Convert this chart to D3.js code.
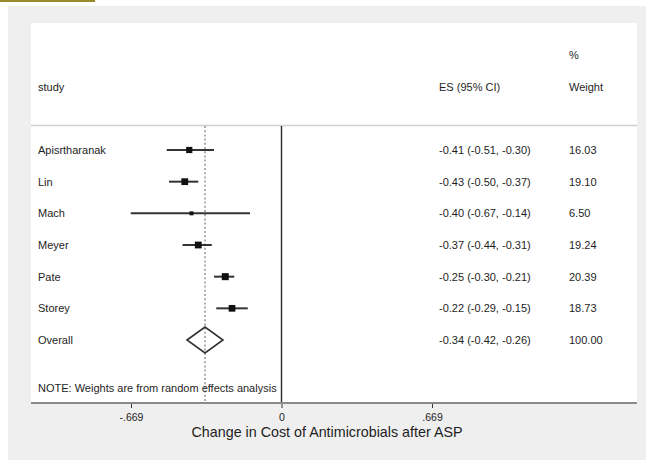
<!DOCTYPE html>
<html>
<head>
<meta charset="utf-8">
<script src="https://cdn.jsdelivr.net/npm/d3@7"></script>
<style>
  html, body { margin: 0; padding: 0; background: #ffffff; }
  svg { display: block; }
  text { font-family: "Liberation Sans", Arial, sans-serif; fill: #1e1e1e; }
</style>
</head>
<body>
<svg id="chart" width="646" height="460"></svg>
<script>
// Study-level effect sizes (change in antimicrobial cost) with 95% CIs
const studies = ["Apisrtharanak", "Lin", "Mach", "Meyer", "Pate", "Storey"];
const es      = [-0.41, -0.43, -0.40, -0.37, -0.25, -0.22];
const ciLow   = [-0.51, -0.50, -0.67, -0.44, -0.30, -0.29];
const ciHigh  = [-0.30, -0.37, -0.14, -0.31, -0.21, -0.15];
const weights = [16.03, 19.10, 6.50, 19.24, 20.39, 18.73];

// Pooled random-effects estimate
const overallLabel  = "Overall";
const overallES     = -0.34;
const overallLow    = -0.42;
const overallHigh   = -0.26;
const overallWeight = 100.00;

// Axis ticks
const tickValues = [-0.669, 0, 0.669];
const tickLabels = ["-.669", "0", ".669"];

const svg = d3.select("#chart");
const W = 646, H = 460;

// backgrounds
svg.append("rect").attr("x", 0).attr("y", 0).attr("width", W).attr("height", H).attr("fill", "#ffffff");
svg.append("rect").attr("x", 0).attr("y", 0).attr("width", 95).attr("height", 2).attr("fill", "#9b8a2c");
svg.append("rect").attr("x", 8).attr("y", 6).attr("width", W - 8).attr("height", H - 6).attr("fill", "#efefef");
svg.append("rect").attr("x", 31).attr("y", 23).attr("width", 606).attr("height", 380).attr("fill", "#ffffff");

const x = d3.scaleLinear().domain([-0.669, 0.669]).range([131, 432]);
const rows = studies.concat([overallLabel]);
const y = d3.scalePoint().domain(rows).range([150, 340]);

// plain hyphen-minus for negative numbers
const locale = d3.formatLocale({ decimal: ".", thousands: ",", grouping: [3], currency: ["", ""], minus: "-" });
const fmt = locale.format(".2f");
const esText = (e, l, h) => `${fmt(e)} (${fmt(l)}, ${fmt(h)})`;

// header
const fs = 11;
svg.append("text").attr("x", 38).attr("y", 91).attr("font-size", fs).text("study");
svg.append("text").attr("x", 439).attr("y", 91).attr("font-size", fs).text("ES (95% CI)");
svg.append("text").attr("x", 569).attr("y", 59).attr("font-size", fs).text("%");
svg.append("text").attr("x", 569).attr("y", 91).attr("font-size", fs).text("Weight");

// header rule
svg.append("line").attr("x1", 31).attr("x2", 637).attr("y1", 125.5).attr("y2", 125.5)
  .attr("stroke", "#cfcfcf").attr("stroke-width", 1.5);

// null line at 0
svg.append("line").attr("x1", x(0)).attr("x2", x(0)).attr("y1", 126).attr("y2", 404)
  .attr("stroke", "#2a2a2a").attr("stroke-width", 1.4);

// pooled estimate reference (dotted)
svg.append("line").attr("x1", x(overallES)).attr("x2", x(overallES)).attr("y1", 126).attr("y2", 404)
  .attr("stroke", "#9a9a9a").attr("stroke-width", 1.6).attr("stroke-dasharray", "2,2.2");

// studies
const g = svg.append("g");
studies.forEach((s, i) => {
  const yy = y(s);
  g.append("text").attr("x", 38).attr("y", yy + 4).attr("font-size", fs).text(s);
  g.append("line").attr("x1", x(ciLow[i])).attr("x2", x(ciHigh[i])).attr("y1", yy).attr("y2", yy)
    .attr("stroke", "#333").attr("stroke-width", 2);
  const side = 1.55 * Math.sqrt(weights[i]);
  g.append("rect").attr("x", x(es[i]) - side / 2).attr("y", yy - side / 2)
    .attr("width", side).attr("height", side).attr("fill", "#111");
  g.append("text").attr("x", 439).attr("y", yy + 4).attr("font-size", fs).text(esText(es[i], ciLow[i], ciHigh[i]));
  g.append("text").attr("x", 569).attr("y", yy + 4).attr("font-size", fs).text(fmt(weights[i]));
});

// overall diamond
const yo = y(overallLabel);
svg.append("text").attr("x", 38).attr("y", yo + 4).attr("font-size", fs).text(overallLabel);
svg.append("path")
  .attr("d", `M${x(overallLow)},${yo} L${x(overallES)},${yo - 13} L${x(overallHigh)},${yo} L${x(overallES)},${yo + 13} Z`)
  .attr("fill", "none").attr("stroke", "#333").attr("stroke-width", 1.6);
svg.append("text").attr("x", 439).attr("y", yo + 4).attr("font-size", fs).text(esText(overallES, overallLow, overallHigh));
svg.append("text").attr("x", 569).attr("y", yo + 4).attr("font-size", fs).text(fmt(overallWeight));

// note
svg.append("text").attr("x", 38).attr("y", 392).attr("font-size", fs)
  .text("NOTE: Weights are from random effects analysis");

// x axis
const axis = d3.axisBottom(x).tickValues(tickValues).tickSize(5).tickPadding(6)
  .tickFormat((d, i) => tickLabels[i]);
const ax = svg.append("g").attr("transform", "translate(0,403)").call(axis);
ax.select(".domain").remove();
ax.selectAll(".tick line").attr("stroke", "#333");
ax.selectAll(".tick text").attr("font-size", 10.5).attr("fill", "#1e1e1e")
  .attr("font-family", "Liberation Sans, Arial, sans-serif");
svg.append("line").attr("x1", 31).attr("x2", 637).attr("y1", 403).attr("y2", 403)
  .attr("stroke", "#8a8a8a").attr("stroke-width", 2);

// axis title
svg.append("text").attr("x", 327).attr("y", 437).attr("text-anchor", "middle").attr("font-size", 14.3)
  .text("Change in Cost of Antimicrobials after ASP");
</script>
</body>
</html>
